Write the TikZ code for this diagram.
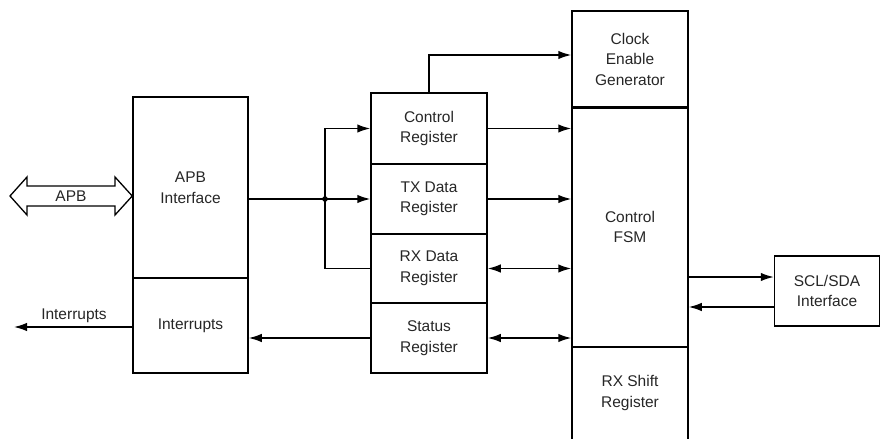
\documentclass[tikz,border=0pt]{standalone}
\usepackage{fontspec}
\setmainfont{Liberation Sans}
\usetikzlibrary{arrows.meta,calc}
\begin{document}
\begin{tikzpicture}[x=1pt,y=-1pt,
  every node/.style={font=\fontsize{15.5}{20.5}\selectfont, text=black!85, align=center, inner sep=0pt},
  blk/.style={draw, line width=1.5pt, minimum width=#1},
  wire/.style={line width=1.5pt},
  arr/.style={wire, -{Latex[length=13pt,width=8.5pt]}},
  darr/.style={wire, {Latex[length=13pt,width=8.5pt]}-{Latex[length=13pt,width=8.5pt]}},
]
\useasboundingbox (0,0) rectangle (881,439);
% left block
\node[blk=115, minimum height=181] (apb) at (190.5,187.5) {APB\\Interface};
\node[blk=115, minimum height=95] (intr) at (190.5,325.5) {Interrupts};
% registers
\node[blk=116, minimum height=71] (ctrl) at (429,128.5) {Control\\Register};
\node[blk=116, minimum height=70] (tx) at (429,199) {TX Data\\Register};
\node[blk=116, minimum height=69] (rx) at (429,268.5) {RX Data\\Register};
\node[blk=116, minimum height=70] (stat) at (429,338) {Status\\Register};
% right column
\node[blk=116, minimum height=96] (clk) at (630,59) {Clock\\Enable\\Generator};
\node[blk=116, minimum height=240] (fsm) at (630,227) {Control\\FSM};
\node[minimum width=116, minimum height=92] (rxs) at (630,393) {RX Shift\\Register};
\draw[wire] (rxs.south west) -- (rxs.north west) -- (rxs.north east) -- (rxs.south east);
\draw[line width=3pt] (clk.south west) -- (clk.south east);
% SCL/SDA
\node[blk=105, minimum height=70] (scl) at (827,291) {SCL/SDA\\Interface};
% APB hollow double arrow
\coordinate (apbL) at (10,196);
\draw[line width=1.3pt, fill=white] (apbL) -- ++(17,-19) -- ++(0,9) -- (115,186) -- ++(0,-9) -- (apb.west |- apbL) -- (115,215) -- ++(0,-9) -- (27,206) -- ++(0,9) -- cycle;
\node (apblbl) at (71,196) {APB};
% interrupts out
\coordinate (intout) at (14,327);
\draw[arr] (intr.west |- intout) -- (intout);
\node (intlbl) at (74,316) {Interrupts};
% bus from APB
\coordinate (j) at (325,199);
\draw[arr] (apb.east |- tx) -- (tx.west);
\draw[arr] (j) |- (ctrl.west);
\draw[wire] (j) |- (rx.west);
\fill (j) circle (2.8pt);
% status to interrupts
\draw[arr] (stat.west) -- (intr.east |- stat);
% registers to FSM
\draw[arr] (ctrl.east) -- (fsm.west |- ctrl);
\draw[arr] (tx.east) -- (fsm.west |- tx);
\draw[darr] (rx.east) -- (fsm.west |- rx);
\draw[darr] (stat.east) -- (fsm.west |- stat);
% clock enable
\coordinate (clkin) at ([yshift=4pt]clk.west);
\draw[arr] (ctrl.north) |- (clkin);
% FSM <-> SCL/SDA
\coordinate (sclA) at ([yshift=14pt]scl.west);
\coordinate (sclB) at ([yshift=-16pt]scl.west);
\draw[arr] (fsm.east |- sclA) -- (sclA);
\draw[arr] (sclB) -- (fsm.east |- sclB);
\end{tikzpicture}
\end{document}
